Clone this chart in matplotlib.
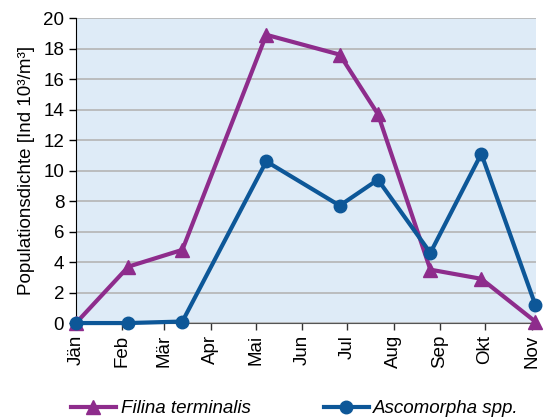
import matplotlib
matplotlib.use("Agg")
import matplotlib.pyplot as plt

plt.rcParams['font.family'] = ['Liberation Sans', 'DejaVu Sans']

# Sampling dates as day of year (0 = 1 January)
sample_days = [0, 35, 71, 127, 176, 201.5, 236.5, 270.5, 306.5]

filina = [0.0, 3.7, 4.8, 18.9, 17.6, 13.7, 3.5, 2.9, 0.1]
ascomorpha = [0.0, 0.0, 0.1, 10.6, 7.7, 9.4, 4.6, 11.1, 1.2]

month_labels = ["Jän", "Feb", "Mär", "Apr", "Mai", "Jun", "Jul", "Aug", "Sep", "Okt", "Nov"]
month_starts = [0, 31, 59, 90, 120, 151, 181, 212, 243, 273, 304]

purple = "#8E2C8C"
blue = "#0D5798"

fig = plt.figure(figsize=(5.45, 4.19), dpi=100)
ax = fig.add_axes([0.1394, 0.229, 0.9835 - 0.1394, 0.957 - 0.229])
ax.set_facecolor("#DEEBF7")

ax.plot(sample_days, filina, color=purple, lw=3, marker="^", ms=10,
        label="Filina terminalis", clip_on=False, zorder=3)
ax.plot(sample_days, ascomorpha, color=blue, lw=3, marker="o", ms=9,
        label="Ascomorpha spp.", clip_on=False, zorder=4)

ax.set_xlim(0, 307)
ax.set_ylim(0, 20)
ax.set_yticks(range(0, 21, 2))
ax.set_xticks(month_starts)
ax.set_xticklabels(month_labels, rotation=90)
ax.tick_params(axis="both", labelsize=13.5, length=5, width=1, direction="out")
ax.tick_params(axis="x", colors="#333333", labelcolor="black")

ax.yaxis.grid(True, color="#B4B4B4", lw=1.2)
ax.set_axisbelow(True)
for side in ("top", "right"):
    ax.spines[side].set_visible(False)
ax.spines["left"].set_color("black")
ax.spines["bottom"].set_color("#555555")

ax.set_ylabel("Populationsdichte [Ind 10³/m³]", fontsize=13.5, labelpad=6)

leg = fig.legend(loc="center", bbox_to_anchor=(0.541, 0.025), ncol=2,
                 frameon=False, prop={"style": "italic", "size": 13.5},
                 handlelength=2.4, columnspacing=3.9, handletextpad=0.25)

fig.savefig("out.png", dpi=100)
